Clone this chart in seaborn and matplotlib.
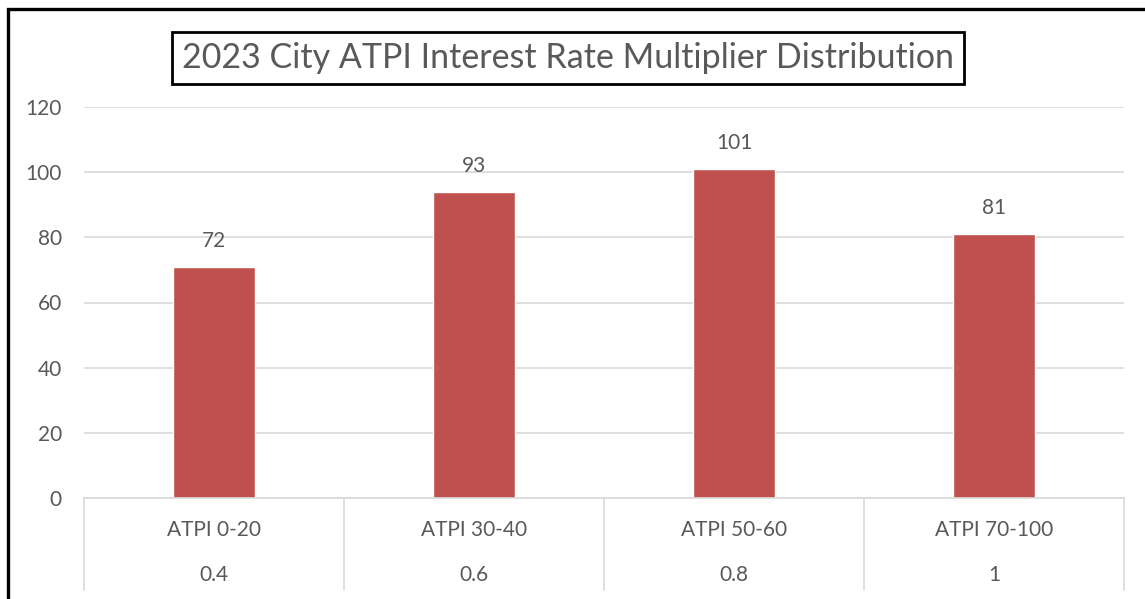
import matplotlib
matplotlib.use("Agg")
import matplotlib.pyplot as plt
import matplotlib.transforms as mtransforms
from matplotlib.patches import Rectangle
import seaborn as sns
import pandas as pd

sns.set_theme(style="white")
plt.rcParams['font.family'] = ['Lato', 'DejaVu Sans']

# data
categories = ["ATPI 0-20", "ATPI 30-40", "ATPI 50-60", "ATPI 70-100"]
multipliers = ["0.4", "0.6", "0.8", "1"]
counts = [71, 94, 101, 81]
count_labels = ["72", "93", "101", "81"]
yticks = [0, 20, 40, 60, 80, 100, 120]

bar_color = "#C0504D"
text_color = "#595959"
grid_color = "#D9D9D9"
fs = 15

df = pd.DataFrame({"band": categories, "count": counts})

fig = plt.figure(figsize=(11.45, 5.99), dpi=100)
ax = fig.add_axes([84 / 1145, 1 - 498 / 599, (1124 - 84) / 1145, (498 - 107) / 599])

sns.barplot(data=df, x="band", y="count", color=bar_color, saturation=1,
            width=0.315, ax=ax)

ax.set_ylim(0, 120)
ax.set_xlim(-0.5, len(categories) - 0.5)
ax.set_yticks(yticks)
ax.set_yticklabels([str(t) for t in yticks], fontsize=fs, color=text_color)
ax.tick_params(axis="y", length=0, pad=16)
ax.set_xticks([])
ax.set_xlabel("")
ax.set_ylabel("")
ax.yaxis.grid(True, color=grid_color, linewidth=1.2)
ax.set_axisbelow(True)
for s in ["top", "right", "left"]:
    ax.spines[s].set_visible(False)
ax.spines["bottom"].set_color(grid_color)
ax.spines["bottom"].set_linewidth(1.2)

# data labels above bars
for i, (v, lab) in enumerate(zip(counts, count_labels)):
    ax.annotate(lab, (i, v), xytext=(0, 26 * 0.72), textcoords="offset points",
                ha="center", va="center", fontsize=fs, color=text_color)

# two-level category table below the axis
trans = mtransforms.blended_transform_factory(ax.transData, ax.transAxes)
ax_h = 498 - 107
for b in range(len(categories) + 1):
    ax.plot([b - 0.5, b - 0.5], [0, -(590 - 498) / ax_h], transform=trans,
            color=grid_color, linewidth=1.2, clip_on=False)
for i, (cat, m) in enumerate(zip(categories, multipliers)):
    ax.text(i, -(530 - 498) / ax_h, cat, transform=trans, ha="center", va="center",
            fontsize=fs, color=text_color)
    ax.text(i, -(575 - 498) / ax_h, m, transform=trans, ha="center", va="center",
            fontsize=fs, color=text_color)

# boxed title
fig.text(568 / 1145, 1 - 58 / 599, "2023 City ATPI Interest Rate Multiplier Distribution",
         ha="center", va="center", fontsize=24.5, color=text_color,
         bbox=dict(boxstyle="square,pad=0.3", facecolor="white", edgecolor="black",
                   linewidth=2))

# outer frame (cut off at the right and bottom)
fig.patches.append(Rectangle((8 / 1145, -0.1), 1.2, 1 - 9 / 599 + 0.1,
                             transform=fig.transFigure, fill=False,
                             edgecolor="black", linewidth=2.4))

fig.savefig("out.png", dpi=100)
